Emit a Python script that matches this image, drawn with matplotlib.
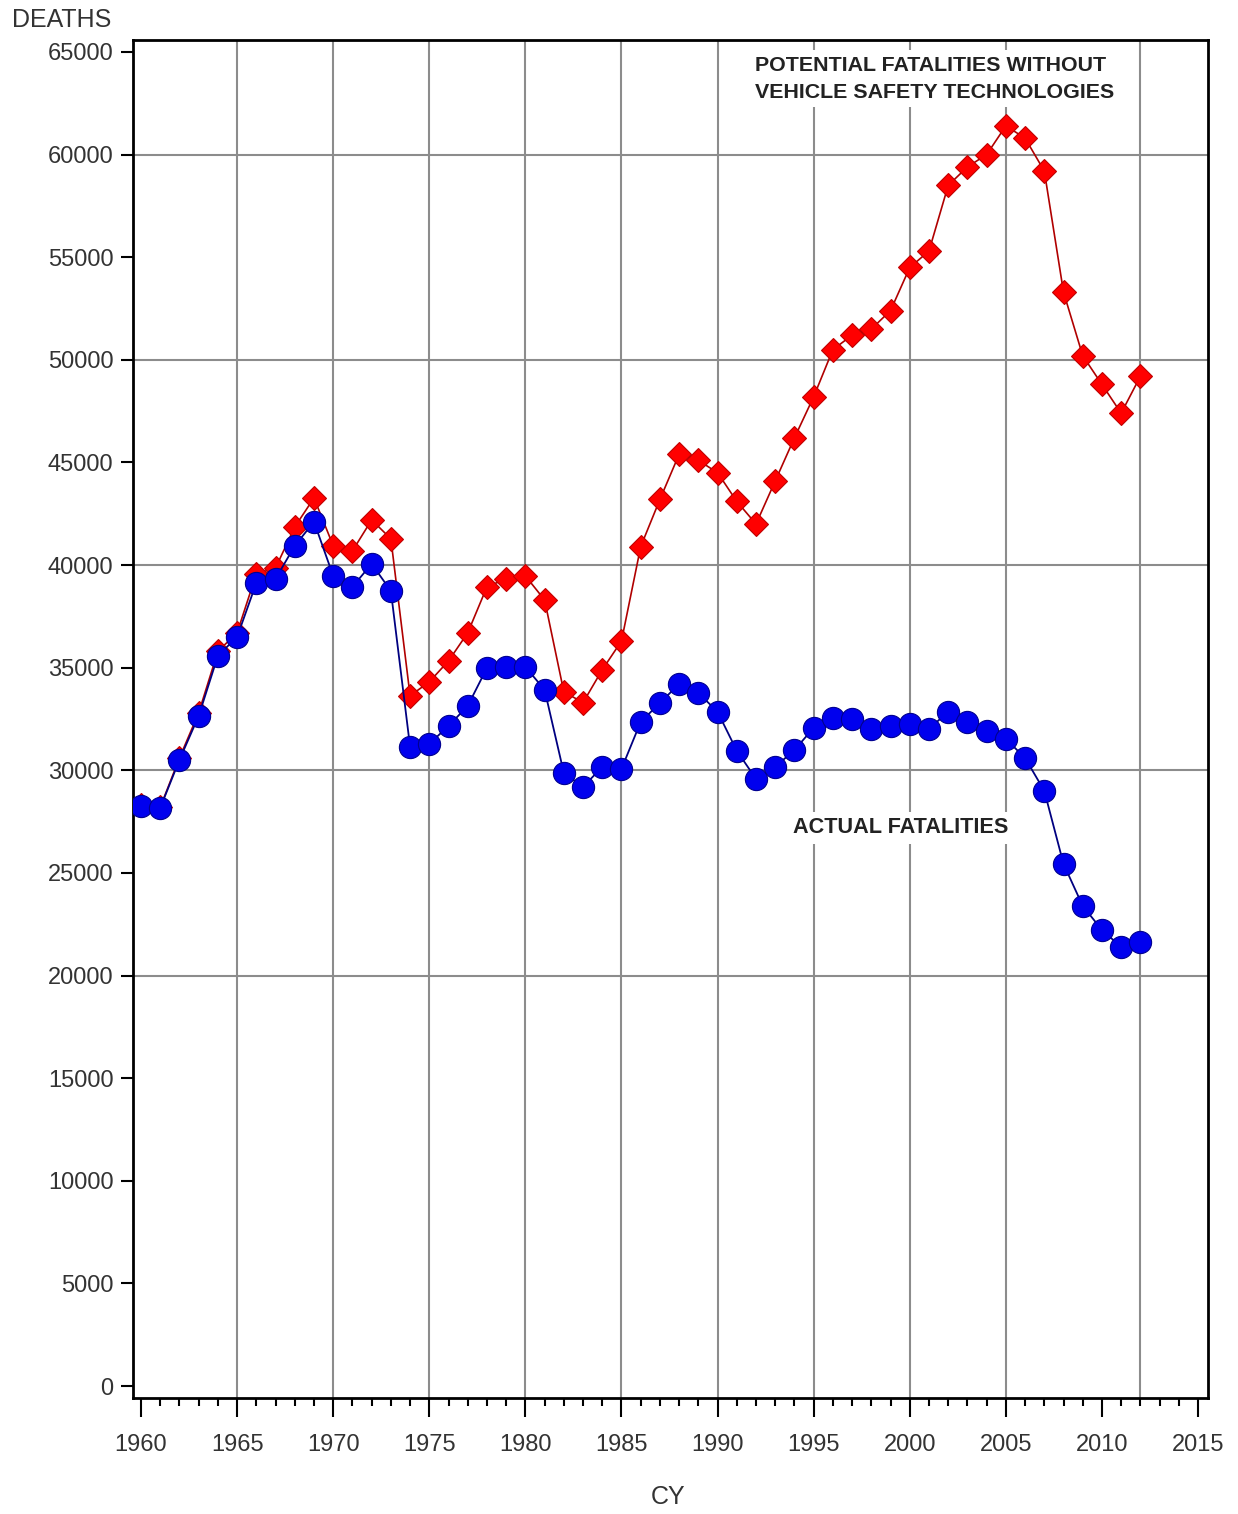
import numpy as np
import matplotlib
matplotlib.use("Agg")
import matplotlib.pyplot as plt
from matplotlib.ticker import MultipleLocator

plt.rcParams['font.family'] = ['Liberation Sans', 'DejaVu Sans']

years = list(range(1960, 2013))

# actual fatalities
actual = [28270, 28170, 30510, 32650, 35580, 36500, 39130, 39330, 40940, 42110,
          39470, 38940, 40060, 38740, 31140, 31290, 32160, 33140, 34990, 35040,
          35040, 33920, 29870, 29190, 30170, 30070, 32360, 33280, 34210, 33770,
          32850, 30950, 29580, 30170, 30990, 32070, 32550, 32500, 32020, 32160,
          32260, 32020, 32850, 32360, 31920, 31530, 30600, 29000, 25440, 23390,
          22220, 21390, 21640]

# potential fatalities without vehicle safety technologies
potential = [28300, 28200, 30600, 32800, 35800, 36700, 39570, 39860, 41860, 43270,
             40940, 40690, 42200, 41280, 33630, 34310, 35330, 36700, 38940, 39330,
             39470, 38300, 33820, 33300, 34900, 36300, 40900, 43200, 45400, 45100,
             44500, 43100, 42000, 44100, 46200, 48200, 50500, 51200, 51500, 52400,
             54500, 55300, 58500, 59400, 60000, 61400, 60800, 59200, 53300, 50200,
             48800, 47400, 49200]

vgrid = [1965, 1970, 1975, 1980, 1985, 1990, 1995, 2000, 2005, 2012]
hgrid = [20000, 30000, 40000, 50000, 60000]

fig = plt.figure(figsize=(12.38, 15.14), dpi=100)
ax = fig.add_axes([0.1074, 0.0766, 0.8684, 0.897])

for x in vgrid:
    ax.axvline(x, color='#8c8c8c', lw=1.5, zorder=1)
for y in hgrid:
    ax.axhline(y, color='#8c8c8c', lw=1.5, zorder=1)

ax.plot(years, potential, color='#b00000', lw=1.2, marker='D', markersize=12.5,
        markerfacecolor='#ff0000', markeredgecolor='#c00000', markeredgewidth=0.8, zorder=3)
ax.plot(years, actual, color='#000080', lw=1.3, marker='o', markersize=16,
        markerfacecolor='#0000ee', markeredgecolor='#000090', markeredgewidth=0.8, zorder=4)

ax.text(1991.95, 63700, 'POTENTIAL FATALITIES WITHOUT\nVEHICLE SAFETY TECHNOLOGIES',
        ha='left', va='center', fontsize=15.4, fontweight='bold', color='#222222',
        linespacing=1.55, zorder=5,
        bbox=dict(facecolor='white', edgecolor='none', pad=4))
ax.text(1993.92, 27190, 'ACTUAL FATALITIES', ha='left', va='center', fontsize=15.6,
        fontweight='bold', color='#222222', zorder=5,
        bbox=dict(facecolor='white', edgecolor='none', pad=4))

ax.set_xlim(1959.58, 2015.52)
ax.set_ylim(-585, 65585)
ax.xaxis.set_major_locator(MultipleLocator(5))
ax.xaxis.set_minor_locator(MultipleLocator(1))
ax.yaxis.set_major_locator(MultipleLocator(5000))

ax.tick_params(axis='x', which='major', direction='out', length=14, width=1.5,
               labelsize=17, pad=12, colors='black', labelcolor='#333333')
ax.tick_params(axis='x', which='minor', direction='out', length=6, width=1.5)
ax.tick_params(axis='y', which='major', direction='out', length=9, width=1.5,
               labelsize=17, pad=5, labelcolor='#333333')
for s in ax.spines.values():
    s.set_linewidth(2)
    s.set_color('black')

fig.text(12 / 1238, 1 - 20 / 1514, 'DEATHS', ha='left', va='center', fontsize=18, color='#333333')
fig.text(668 / 1238, 1 - 1497 / 1514, 'CY', ha='center', va='center', fontsize=18, color='#333333')

fig.savefig('out.png', dpi=100, facecolor='white')
